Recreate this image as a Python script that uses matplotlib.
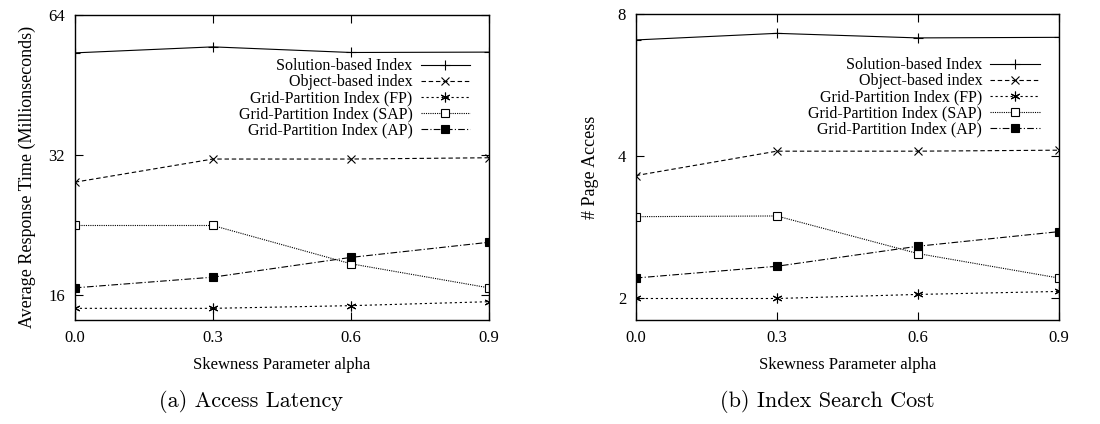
import matplotlib
matplotlib.use('Agg')
import matplotlib.pyplot as plt
from matplotlib.ticker import FixedLocator, FixedFormatter, NullLocator

plt.rcParams['font.family'] = ['Liberation Serif', 'DejaVu Serif']

alpha = [0.0, 0.3, 0.6, 0.9]
alpha_labels = ['0.0', '0.3', '0.6', '0.9']

names = ['Solution-based Index', 'Object-based index', 'Grid-Partition Index (FP)',
         'Grid-Partition Index (SAP)', 'Grid-Partition Index (AP)']

# (a) access latency, ms
lat_solution = [53.1, 54.7, 53.2, 53.3]
lat_object = [28.0, 31.4, 31.4, 31.6]
lat_fp = [15.0, 15.0, 15.2, 15.5]
lat_sap = [22.6, 22.6, 18.7, 16.6]
lat_ap = [16.6, 17.5, 19.3, 20.8]

# (b) index search cost, pages
cost_solution = [7.05, 7.28, 7.12, 7.14]
cost_object = [3.64, 4.10, 4.10, 4.12]
cost_fp = [2.0, 2.0, 2.04, 2.07]
cost_sap = [2.98, 2.99, 2.49, 2.21]
cost_ap = [2.21, 2.34, 2.58, 2.77]

styles = [
    dict(ls='-', marker='+', ms=7, mfc='none'),
    dict(ls=(0, (4, 2.5)), marker='x', ms=6, mfc='none'),
    dict(ls=(0, (2, 2.5)), marker=(6, 2, 0), ms=7, mfc='none'),
    dict(ls=(0, (1, 1)), marker='s', ms=6, mfc='white'),
    dict(ls=(0, (6, 2, 1, 2)), marker='s', ms=6, mfc='black'),
]


def draw(ax, series, yticks, ylim, ylabel, ylab_xy, caption, cx):
    for name, ys, st in zip(names, series, styles):
        ax.plot(alpha, ys, color='black', lw=0.8, mec='black', mew=0.8,
                label=name, **st)
    ax.set_yscale('log', base=2)
    ax.set_ylim(*ylim)
    ax.set_xlim(0.0, 0.9)
    ax.yaxis.set_major_locator(FixedLocator(yticks))
    ax.yaxis.set_major_formatter(FixedFormatter([str(t) for t in yticks]))
    ax.yaxis.set_minor_locator(NullLocator())
    ax.set_xticks(alpha)
    ax.set_xticklabels(alpha_labels)
    ax.tick_params(direction='in', top=True, right=True, length=6, width=0.8,
                   labelsize=12, pad=7)
    for s in ax.spines.values():
        s.set_linewidth(1.0)
    ax.set_xlabel('Skewness Parameter alpha', fontsize=12, labelpad=8)
    ax.set_ylabel(ylabel, fontsize=13)
    ax.yaxis.set_label_coords(*ylab_xy)
    ax.legend(loc='upper right', bbox_to_anchor=(0.97, 0.88), frameon=False,
              markerfirst=False, fontsize=11.5, handlelength=3.1,
              labelspacing=0.0, borderaxespad=0, handletextpad=0.5)
    fig.text(cx, 0.052, caption, ha='center', va='center', fontsize=16,
             family=['cmr10', 'DejaVu Serif'])


fig = plt.figure(figsize=(11, 4.24), dpi=100)
ax1 = fig.add_axes([0.068, 0.245, 0.3765, 0.7193])
ax2 = fig.add_axes([0.578, 0.245, 0.3845, 0.722])

draw(ax1, [lat_solution, lat_object, lat_fp, lat_sap, lat_ap], [16, 32, 64],
     (14.15, 64), 'Average Response Time (Millionseconds)', (-0.094, 0.47),
     '(a) Access Latency', 0.228)
draw(ax2, [cost_solution, cost_object, cost_fp, cost_sap, cost_ap], [2, 4, 8],
     (1.80, 8), '# Page Access', (-0.087, 0.5), '(b) Index Search Cost', 0.752)

fig.savefig('out.png', dpi=100)
